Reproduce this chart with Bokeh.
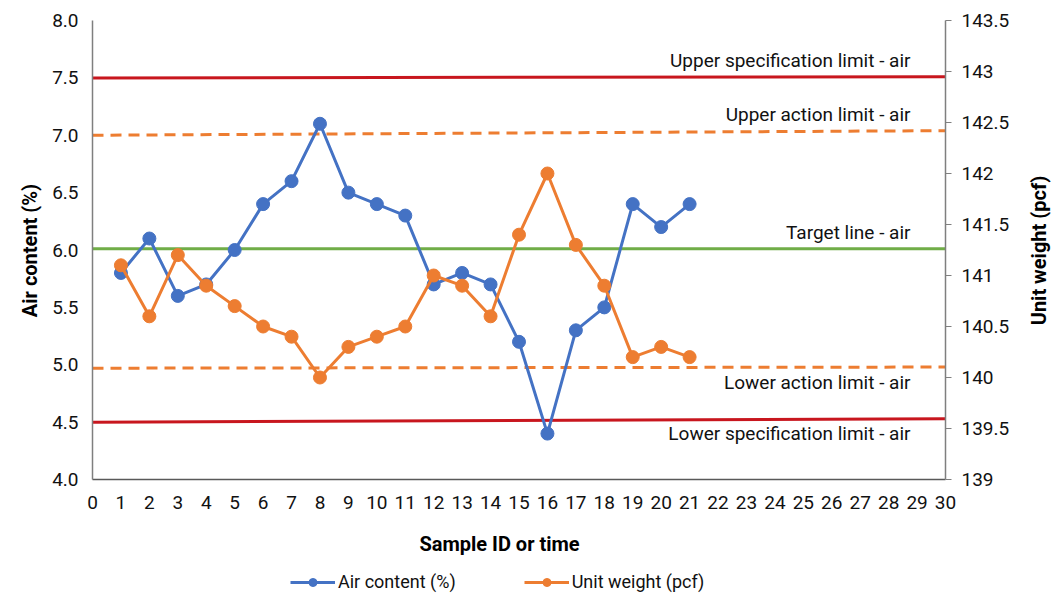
import math
from bokeh.plotting import figure
from bokeh.models import Range1d, LinearAxis, FixedTicker, Legend, LegendItem, ColumnDataSource
from bokeh.core.properties import value
from bokeh.embed import file_html
from bokeh.resources import INLINE

# ---- data ----
sample_ids = list(range(1, 22))
air_content = [5.8, 6.1, 5.6, 5.7, 6.0, 6.4, 6.6, 7.1, 6.5, 6.4, 6.3,
               5.7, 5.8, 5.7, 5.2, 4.4, 5.3, 5.5, 6.4, 6.2, 6.4]
unit_weight = [141.1, 140.6, 141.2, 140.9, 140.7, 140.5, 140.4, 140.0, 140.3, 140.4, 140.5,
               141.0, 140.9, 140.6, 141.4, 142.0, 141.3, 140.9, 140.2, 140.3, 140.2]

limit_names = ["Upper specification limit - air", "Upper action limit - air",
               "Target line - air", "Lower action limit - air",
               "Lower specification limit - air"]
limit_x = [0, 30]
limit_start = [7.50, 7.00, 6.01, 4.97, 4.50]
limit_end = [7.51, 7.04, 6.01, 4.98, 4.53]
limit_label_below = [False, False, False, True, True]

x_ticks = list(range(0, 31))
left_ticks = [4.0, 4.5, 5.0, 5.5, 6.0, 6.5, 7.0, 7.5, 8.0]
right_ticks = [139, 139.5, 140, 140.5, 141, 141.5, 142, 142.5, 143, 143.5]
x_bounds = (0, 30)
air_bounds = (4.0, 8.0)
uw_bounds = (139.0, 143.5)
x_title = "Sample ID or time"
air_title = "Air content (%)"
uw_title = "Unit weight (pcf)"

# ---- layout (pixels of the canvas) ----
FRAME_W, FRAME_H = 1054, 595
PLOT_LEFT, PLOT_RIGHT = 92, 945
PLOT_TOP, PLOT_BOTTOM = 20, 479

px_x = (PLOT_RIGHT - PLOT_LEFT) / (x_bounds[1] - x_bounds[0])
x_lo = x_bounds[0] - PLOT_LEFT / px_x
x_hi = x_bounds[1] + (FRAME_W - PLOT_RIGHT) / px_x
px_air = (PLOT_BOTTOM - PLOT_TOP) / (air_bounds[1] - air_bounds[0])
air_hi = air_bounds[1] + PLOT_TOP / px_air
air_lo = air_bounds[0] - (FRAME_H - PLOT_BOTTOM) / px_air
px_uw = (PLOT_BOTTOM - PLOT_TOP) / (uw_bounds[1] - uw_bounds[0])
uw_hi = uw_bounds[1] + PLOT_TOP / px_uw
uw_lo = uw_bounds[0] - (FRAME_H - PLOT_BOTTOM) / px_uw


def x_at(px):
    return x_lo + px / px_x


def y_at(py):
    return air_hi - py / px_air


FONT = "Roboto"
BLUE = "#4472C4"
ORANGE = "#ED7D31"
GREEN = "#70AD47"
RED = "#C8161E"
AXIS_GREY = "#7f7f7f"
limit_colors = [RED, ORANGE, GREEN, ORANGE, RED]
limit_dash = ["solid", "11 7", "solid", "11 7", "solid"]

p = figure(frame_width=FRAME_W, frame_height=FRAME_H,
           x_range=Range1d(x_lo, x_hi), y_range=Range1d(air_lo, air_hi),
           x_axis_location=None, y_axis_location=None,
           output_backend="svg", toolbar_location=None, min_border=0)
p.extra_y_ranges = {"uw": Range1d(uw_lo, uw_hi)}
p.outline_line_color = None
p.grid.visible = False
p.background_fill_color = "white"
p.border_fill_color = "white"

# limit lines
for name, y0, y1, c, d in zip(limit_names, limit_start, limit_end, limit_colors, limit_dash):
    p.line(limit_x, [y0, y1], line_color=c, line_width=3, line_dash=d)

# limit labels
for name, y1, below in zip(limit_names, limit_end, limit_label_below):
    p.text(x=[limit_x[1]], y=[y1], text=[name], text_align="right",
           text_baseline="alphabetic", x_offset=-35, y_offset=(15 if below else -16),
           text_font=value(FONT), text_font_size="19px", text_color="#111111")

# series
src_air = ColumnDataSource(dict(x=sample_ids, y=air_content))
src_uw = ColumnDataSource(dict(x=sample_ids, y=unit_weight))
l1 = p.line("x", "y", source=src_air, line_color=BLUE, line_width=3)
s1 = p.scatter("x", "y", source=src_air, size=13, fill_color=BLUE, line_color=BLUE)
l2 = p.line("x", "y", source=src_uw, line_color=ORANGE, line_width=3, y_range_name="uw")
s2 = p.scatter("x", "y", source=src_uw, size=13, fill_color=ORANGE, line_color=ORANGE,
               y_range_name="uw")

# axes (drawn at fixed data locations inside the canvas-wide frame)
xa = LinearAxis(ticker=FixedTicker(ticks=x_ticks), fixed_location=air_bounds[0],
                bounds=x_bounds)
p.add_layout(xa, "below")
ya = LinearAxis(ticker=FixedTicker(ticks=left_ticks), fixed_location=x_bounds[0],
                bounds=air_bounds)
ya.major_label_overrides = {t: f"{t:.1f}" for t in left_ticks}
p.add_layout(ya, "left")
ra = LinearAxis(y_range_name="uw", ticker=FixedTicker(ticks=right_ticks),
                fixed_location=x_bounds[1], bounds=uw_bounds)
ra.major_label_overrides = {t: f"{t:g}" for t in right_ticks}
p.add_layout(ra, "right")

for ax in (xa, ya, ra):
    ax.major_label_text_font = FONT
    ax.major_label_text_font_size = "19px"
    ax.major_label_text_color = "#111111"
    ax.minor_tick_line_color = None
    ax.axis_line_color = AXIS_GREY
    ax.axis_line_width = 1.5

xa.major_tick_line_color = None
xa.major_label_standoff = 10
xa.axis_line_color = "#595959"
ya.major_tick_line_color = None
ya.major_label_standoff = 8
ra.major_tick_line_color = AXIS_GREY
ra.major_tick_out = 6
ra.major_tick_in = 0
ra.major_label_standoff = 10

# axis titles
title_style = dict(text_font=value(FONT), text_font_size="20px", text_font_style="bold",
                   text_color="#000000", text_align="center", text_baseline="middle")
p.text(x=[x_at(499)], y=[y_at(543)], text=[x_title], **title_style)
p.text(x=[x_at(29)], y=[y_at(250)], text=[air_title], angle=math.pi / 2, **title_style)
p.text(x=[x_at(1038)], y=[y_at(250)], text=[uw_title], angle=math.pi / 2, **title_style)

legend = Legend(items=[LegendItem(label="Air content (%)", renderers=[l1, s1]),
                       LegendItem(label="Unit weight (pcf)", renderers=[l2, s2])],
                orientation="horizontal", location=(290, 3),
                label_text_font=FONT, label_text_font_size="18px",
                label_text_color="#111111", glyph_width=45, glyph_height=20,
                label_height=20, label_standoff=3,
                spacing=68, border_line_color=None, background_fill_alpha=0,
                padding=0, margin=0)
p.add_layout(legend, "center")

open("out.html", "w").write(file_html(p, INLINE))
